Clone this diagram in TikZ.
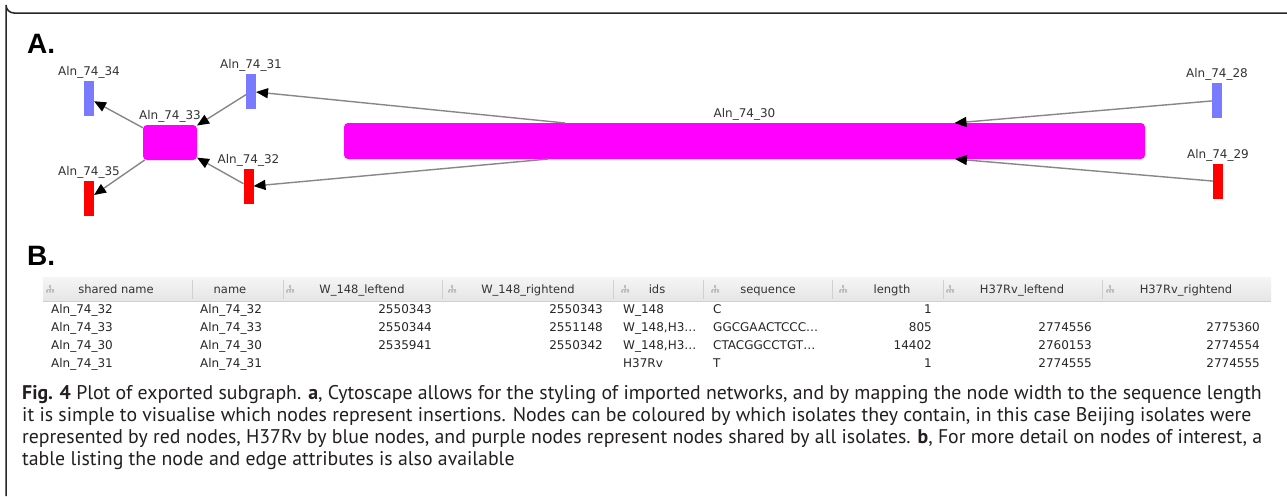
\documentclass[tikz,border=0pt]{standalone}
\usepackage{fontspec}
\setmainfont{PT Sans}
\newfontfamily\dejavu{DejaVu Sans}
\newfontfamily\helv{Liberation Sans}
\usetikzlibrary{arrows.meta}
\definecolor{nblue}{RGB}{122,122,255}
\definecolor{nred}{RGB}{255,0,0}
\definecolor{nmag}{RGB}{255,0,255}
\definecolor{edgegray}{RGB}{135,135,135}
\definecolor{hdrsep}{RGB}{208,208,208}
\definecolor{icongray}{RGB}{190,190,190}
\definecolor{captext}{RGB}{35,31,32}
\begin{document}
\begin{tikzpicture}[x=1pt,y=-1pt,
  vbox/.style={inner sep=0pt, outer sep=0pt, minimum width=10pt, minimum height=35pt},
  bluebox/.style={vbox, fill=nblue},
  redbox/.style={vbox, fill=nred},
  magbox/.style={inner sep=0pt, outer sep=0pt, fill=nmag, rounded corners=4pt, minimum height=35pt},
  lbl/.style={font=\dejavu\fontsize{12}{14}\selectfont, text=black!80, inner sep=0pt},
  edge/.style={draw=edgegray, line width=1.4pt, -{Triangle[length=12pt,width=10pt,color=black]}},
  panel/.style={font=\helv\bfseries\fontsize{28}{30}\selectfont, inner sep=0pt, anchor=base west},
  hdr/.style={font=\dejavu\fontsize{11.5}{13}\selectfont, text=black!80, inner sep=0pt, anchor=base},
  cellL/.style={font=\dejavu\fontsize{12}{14}\selectfont, text=black!85, inner sep=0pt, anchor=base west},
  cellR/.style={font=\dejavu\fontsize{12}{14}\selectfont, text=black!85, inner sep=0pt, anchor=base east},
  capline/.style={font=\fontsize{19.8}{22}\selectfont, text=captext, inner sep=0pt, anchor=base west},
  treeicon/.pic={
    \fill[icongray] (-1,-4) rectangle (1,-1.5);
    \draw[icongray, line width=0.6pt] (0,-1.5) -- (0,0) (-3,0) -- (3,0) (-3,0) -- (-3,1) (3,0) -- (3,1) (0,0) -- (0,1);
    \fill[icongray] (-4,1) rectangle (-2,3.5) (-1,1) rectangle (1,3.5) (2,1) rectangle (4,3.5);
  }]
\useasboundingbox (0,0) rectangle (1287,496);
\fill[white] (0,0) rectangle (1287,496);
% frame
\draw[line width=1.5pt, black!85] (1287,13) -- (14,13) arc[start angle=90, end angle=180, radius=8] -- (6,496);

% panel labels
\node[panel] (pA) at (27,53) {A.};
\node[panel] (pB) at (27,265) {B.};

% graph nodes
\node[bluebox, label={[lbl, label distance=2pt]above:Aln\_74\_34}] (n34) at (89,98.5) {};
\node[bluebox, label={[lbl, label distance=2pt]above:Aln\_74\_31}] (n31) at (251,91.5) {};
\node[magbox, minimum width=54pt, label={[lbl, label distance=2pt]above:Aln\_74\_33}] (n33) at (170,142.5) {};
\node[redbox, label={[lbl, label distance=2pt]above:Aln\_74\_35}] (n35) at (89,198.5) {};
\node[redbox, label={[lbl, label distance=2pt]above:Aln\_74\_32}] (n32) at (248.5,186.5) {};
\node[magbox, minimum width=801pt, minimum height=36pt, label={[lbl, label distance=2pt]above:Aln\_74\_30}] (n30) at (744.5,141) {};
\node[bluebox, label={[lbl, label distance=2pt]above:Aln\_74\_28}] (n28) at (1217,100.5) {};
\node[redbox, label={[lbl, label distance=2pt]above:Aln\_74\_29}] (n29) at (1218,181.5) {};

% edges
\draw[edge] (n33) -- (n34);
\draw[edge] (n31) -- (n33);
\draw[edge] (n33) -- (n35);
\draw[edge] (n32) -- (n33);
\draw[edge] (n30) -- (n31);
\draw[edge] (n30) -- (n32);
\draw[edge] (n28) -- (n30);
\draw[edge] (n29) -- (n30);

% table header
\shade[top color=white!96!black, bottom color=white!90!black] (43,277) rectangle (1271,301);
\draw[hdrsep, line width=0.8pt] (43,301) -- (1271,301);
\foreach \x in {192,283,442,613,703,832,943,1102}
  \draw[hdrsep, line width=0.8pt] (\x,280) -- (\x,299);
\foreach \x in {50,290,452,625,715,843,950,1110}
  \pic at (\x,289) {treeicon};
\node[hdr] (h1) at (116,293) {shared name};
\node[hdr] (h2) at (230,293) {name};
\node[hdr] (h3) at (362,293) {W\_148\_leftend};
\node[hdr] (h4) at (528,293) {W\_148\_rightend};
\node[hdr] (h5) at (657,293) {ids};
\node[hdr] (h6) at (768,293) {sequence};
\node[hdr] (h7) at (892,293) {length};
\node[hdr] (h8) at (1022,293) {H37Rv\_leftend};
\node[hdr] (h9) at (1186,293) {H37Rv\_rightend};

% table rows
\node[cellL] (r1c1) at (51,313) {Aln\_74\_32};
\node[cellL] (r1c2) at (200,313) {Aln\_74\_32};
\node[cellR] (r1c3) at (432,313) {2550343};
\node[cellR] (r1c4) at (603,313) {2550343};
\node[cellL] (r1c5) at (623,313) {W\_148};
\node[cellL] (r1c6) at (713,313) {C};
\node[cellR] (r1c7) at (932,313) {1};

\node[cellL] (r2c1) at (51,331) {Aln\_74\_33};
\node[cellL] (r2c2) at (200,331) {Aln\_74\_33};
\node[cellR] (r2c3) at (432,331) {2550344};
\node[cellR] (r2c4) at (603,331) {2551148};
\node[cellL] (r2c5) at (623,331) {W\_148,H3…};
\node[cellL] (r2c6) at (713,331) {GGCGAACTCCC…};
\node[cellR] (r2c7) at (932,331) {805};
\node[cellR] (r2c8) at (1092,331) {2774556};
\node[cellR] (r2c9) at (1260,331) {2775360};

\node[cellL] (r3c1) at (51,349) {Aln\_74\_30};
\node[cellL] (r3c2) at (200,349) {Aln\_74\_30};
\node[cellR] (r3c3) at (432,349) {2535941};
\node[cellR] (r3c4) at (603,349) {2550342};
\node[cellL] (r3c5) at (623,349) {W\_148,H3…};
\node[cellL] (r3c6) at (713,349) {CTACGGCCTGT…};
\node[cellR] (r3c7) at (932,349) {14402};
\node[cellR] (r3c8) at (1092,349) {2760153};
\node[cellR] (r3c9) at (1260,349) {2774554};

\node[cellL] (r4c1) at (51,367) {Aln\_74\_31};
\node[cellL] (r4c2) at (200,367) {Aln\_74\_31};
\node[cellL] (r4c5) at (623,367) {H37Rv};
\node[cellL] (r4c6) at (713,367) {T};
\node[cellR] (r4c7) at (932,367) {1};
\node[cellR] (r4c8) at (1092,367) {2774555};
\node[cellR] (r4c9) at (1260,367) {2774555};

% caption
\node[capline] (cap1) at (22,399) {\textbf{Fig. 4} Plot of exported subgraph. \textbf{a}, Cytoscape allows for the styling of imported networks, and by mapping the node width to the sequence length};
\node[capline] (cap2) at (22,421) {it is simple to visualise which nodes represent insertions. Nodes can be coloured by which isolates they contain, in this case Beijing isolates were};
\node[capline] (cap3) at (22,443) {represented by red nodes, H37Rv by blue nodes, and purple nodes represent nodes shared by all isolates. \textbf{b}, For more detail on nodes of interest, a};
\node[capline] (cap4) at (22,465) {table listing the node and edge attributes is also available};
\end{tikzpicture}
\end{document}
